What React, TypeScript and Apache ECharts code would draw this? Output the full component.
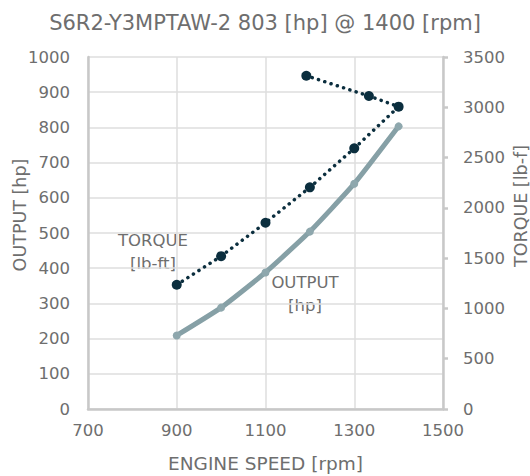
import React, { useEffect, useRef } from "react";
import * as echarts from "echarts";

const titleText = "S6R2-Y3MPTAW-2 803 [hp] @ 1400 [rpm]";
const xAxisName = "ENGINE SPEED [rpm]";
const leftAxisName = "OUTPUT [hp]";
const rightAxisName = "TORQUE [lb-f]";
const outputRpm = [900, 1000, 1100, 1200, 1300, 1400];
const outputHp = [209, 288, 388, 504, 640, 803];
const torqueRpm = [900, 1000, 1100, 1200, 1300, 1400, 1333, 1192];
const torqueLbFt = [1235, 1520, 1852, 2204, 2592, 3006, 3112, 3314];

const FONT = "DejaVu Sans";
const TXT = "#6e6e6e";

export default function App() {
  const ref = useRef<HTMLDivElement>(null);
  useEffect(() => {
    if (!ref.current) return;
    const chart = echarts.init(ref.current, undefined, { renderer: "svg" });
    const axisLine = { show: true, lineStyle: { color: "#c8c8c8", width: 2.5 } };
    const label = { color: TXT, fontSize: 16.5, fontFamily: FONT, formatter: (v: number) => String(v) };
    chart.setOption({
      animation: false,
      title: {
        text: titleText,
        left: "center",
        top: 7,
        textStyle: { color: TXT, fontSize: 21, fontWeight: "normal", fontFamily: FONT },
      },
      grid: { left: 88, right: 87, top: 57, bottom: 67, outerBoundsMode: "none", containLabel: false },
      xAxis: {
        type: "value",
        min: 700,
        max: 1500,
        interval: 200,
        name: xAxisName,
        nameLocation: "middle",
        nameGap: 45,
        nameTextStyle: { color: TXT, fontSize: 18.5, fontFamily: FONT },
        axisLine,
        axisTick: { show: false },
        axisLabel: { ...label, margin: 13 },
        splitLine: { show: true, lineStyle: { color: "#dedede", width: 1.5 } },
      },
      yAxis: [
        {
          type: "value",
          min: 0,
          max: 1000,
          interval: 100,
          position: "left",
          axisLine,
          axisTick: { show: false },
          axisLabel: { ...label, margin: 18 },
          splitLine: { show: true, lineStyle: { color: "#dedede", width: 1.5 } },
        },
        {
          type: "value",
          min: 0,
          max: 3500,
          interval: 500,
          position: "right",
          axisLine,
          axisTick: { show: true, length: 5, lineStyle: { color: "#c8c8c8", width: 2.5 } },
          axisLabel: { ...label, margin: 20 },
          splitLine: { show: false },
        },
      ],
      graphic: [
        {
          type: "text",
          x: 20,
          y: 215,
          rotation: Math.PI / 2,
          style: {
            text: leftAxisName,
            fill: TXT,
            fontSize: 17.5,
            fontFamily: FONT,
            align: "center",
            verticalAlign: "middle",
          },
        },
        {
          type: "text",
          x: 521,
          y: 206,
          rotation: Math.PI / 2,
          style: {
            text: rightAxisName,
            fill: TXT,
            fontSize: 17.5,
            fontFamily: FONT,
            align: "center",
            verticalAlign: "middle",
          },
        },
        {
          type: "text",
          x: 153,
          y: 252,
          style: {
            text: "TORQUE\n[lb-ft]",
            fill: TXT,
            fontSize: 16.5,
            lineHeight: 23,
            fontFamily: FONT,
            align: "center",
            verticalAlign: "middle",
          },
        },
        {
          type: "text",
          x: 305,
          y: 294,
          style: {
            text: "OUTPUT\n[hp]",
            fill: TXT,
            fontSize: 16.5,
            lineHeight: 23,
            fontFamily: FONT,
            align: "center",
            verticalAlign: "middle",
          },
        },
      ],
      series: [
        {
          type: "line",
          yAxisIndex: 0,
          data: outputRpm.map((x, i) => [x, outputHp[i]]),
          smooth: 0.15,
          symbol: "circle",
          symbolSize: 8,
          lineStyle: { color: "#86a0a6", width: 5 },
          itemStyle: { color: "#8ea7ad" },
        },
        {
          type: "line",
          yAxisIndex: 1,
          data: torqueRpm.map((x, i) => [x, torqueLbFt[i]]),
          symbol: "circle",
          symbolSize: 10,
          lineStyle: { color: "#0b2e3e", width: 3.5, type: [0.1, 6.5], cap: "round" },
          itemStyle: { color: "#0b2e3e" },
        },
      ],
    });
    return () => chart.dispose();
  }, []);
  return <div ref={ref} style={{ position: "absolute", left: 0, top: 0, width: 530, height: 476 }} />;
}
